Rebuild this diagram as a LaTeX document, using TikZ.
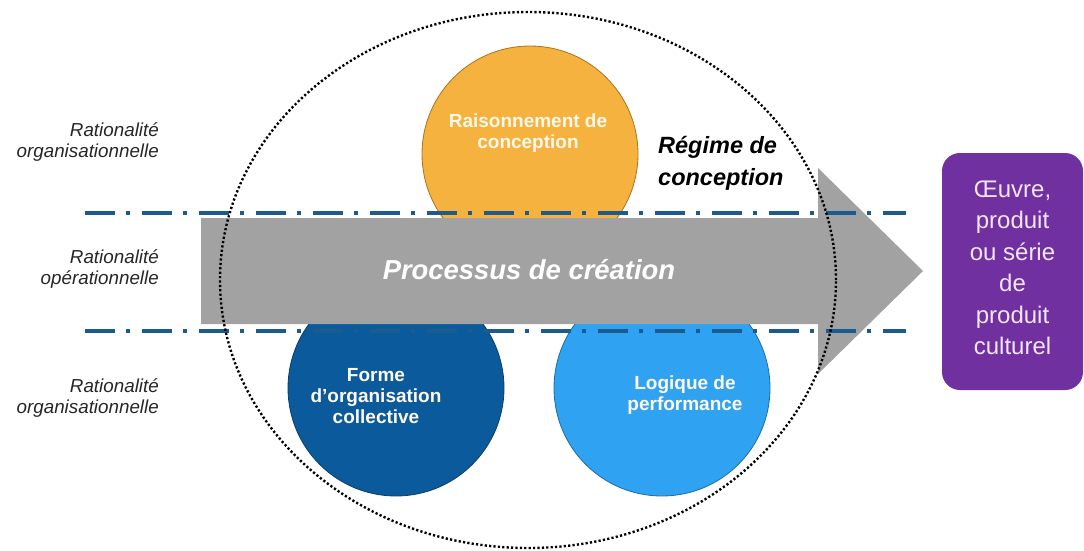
\documentclass[tikz,border=0pt]{standalone}
\usepackage{fontspec}
\setmainfont{Liberation Sans}
\usetikzlibrary{shapes.geometric}
\definecolor{orangefill}{HTML}{F5B23E}
\definecolor{orangeline}{HTML}{A8741E}
\definecolor{darkbluefill}{HTML}{0A5A9C}
\definecolor{darkblueline}{HTML}{083F6C}
\definecolor{lightbluefill}{HTML}{2FA3F2}
\definecolor{lightblueline}{HTML}{1A6EA8}
\definecolor{arrowgray}{HTML}{A2A2A2}
\definecolor{dashblue}{HTML}{1D5B8F}
\definecolor{boxpurple}{HTML}{7030A0}
\definecolor{boxtext}{HTML}{F3E6F8}
\definecolor{labelgray}{HTML}{262626}
\definecolor{circletext}{HTML}{FFF8EC}
\tikzset{
  bubble/.style={circle, line width=0.8pt, inner sep=0pt, minimum size=216pt},
  ctext/.style={text=circletext, font=\bfseries\fontsize{19}{21}\selectfont, align=center, inner sep=0pt},
  sidelabel/.style={font=\itshape\fontsize{18.8}{21.5}\selectfont, align=right, anchor=east, text=labelgray, inner sep=0pt},
  sepline/.style={draw=dashblue, line width=3.5pt, dash pattern=on 30pt off 11pt on 4pt off 12pt},
  dotring/.style={ellipse, draw=black, line width=2.4pt, dash pattern=on 2.2pt off 2.2pt, inner sep=0pt, minimum width=616pt, minimum height=536pt},
}
\begin{document}
\begin{tikzpicture}[x=1pt,y=-1pt]
\useasboundingbox (0,0) rectangle (1084,550);
% circles
\node[bubble, fill=orangefill, draw=orangeline] (raison) at (530,154) {};
\node[bubble, fill=darkbluefill, draw=darkblueline] (forme) at (396,388) {};
\node[bubble, fill=lightbluefill, draw=lightblueline] (logique) at (662,388) {};
% arrow
\fill[arrowgray] (201,218) -- (818,218) -- (818,168) -- (923,271) -- (818,374) -- (818,324) -- (201,324) -- cycle;
\node[text=white, font=\bfseries\itshape\fontsize{27.4}{30}\selectfont, inner sep=0pt] (processus) at (529,270) {Processus de création};
% circle texts
\node[ctext] (raisontext) at (528,133) {Raisonnement de\\conception};
\node[ctext] (formetext) at (376,396) {Forme\\d’organisation\\collective};
\node[ctext] (logiquetext) at (685,395) {Logique de\\performance};
% separator lines
\coordinate (s1a) at (85,213);
\coordinate (s1b) at (906,213);
\coordinate (s2a) at (85,331);
\coordinate (s2b) at (906,331);
\draw[sepline] (s1a) -- (s1b);
\draw[sepline] (s2a) -- (s2b);
% dotted regime ellipse
\node[dotring] (regime) at (528,280) {};
\node[font=\bfseries\itshape\fontsize{23.5}{31.5}\selectfont, align=left, anchor=west, inner sep=0pt] (regimetext) at (658,163.5) {Régime de\\conception};
% side labels
\node[sidelabel] (rat1) at (159,142) {Rationalité\\organisationnelle};
\node[sidelabel] (rat2) at (159,269) {Rationalité\\opérationnelle};
\node[sidelabel] (rat3) at (159,398) {Rationalité\\organisationnelle};
% output box
\node[fill=boxpurple, rounded corners=18pt, minimum width=141pt, minimum height=237pt, inner sep=0pt] (oeuvre) at (1012.5,271.5) {};
\node[text=boxtext, font=\fontsize{24}{31.5}\selectfont, align=center, inner sep=0pt] (oeuvretext) at (1012.5,268) {Œuvre,\\produit\\ou série\\de\\produit\\culturel};
\end{tikzpicture}
\end{document}
